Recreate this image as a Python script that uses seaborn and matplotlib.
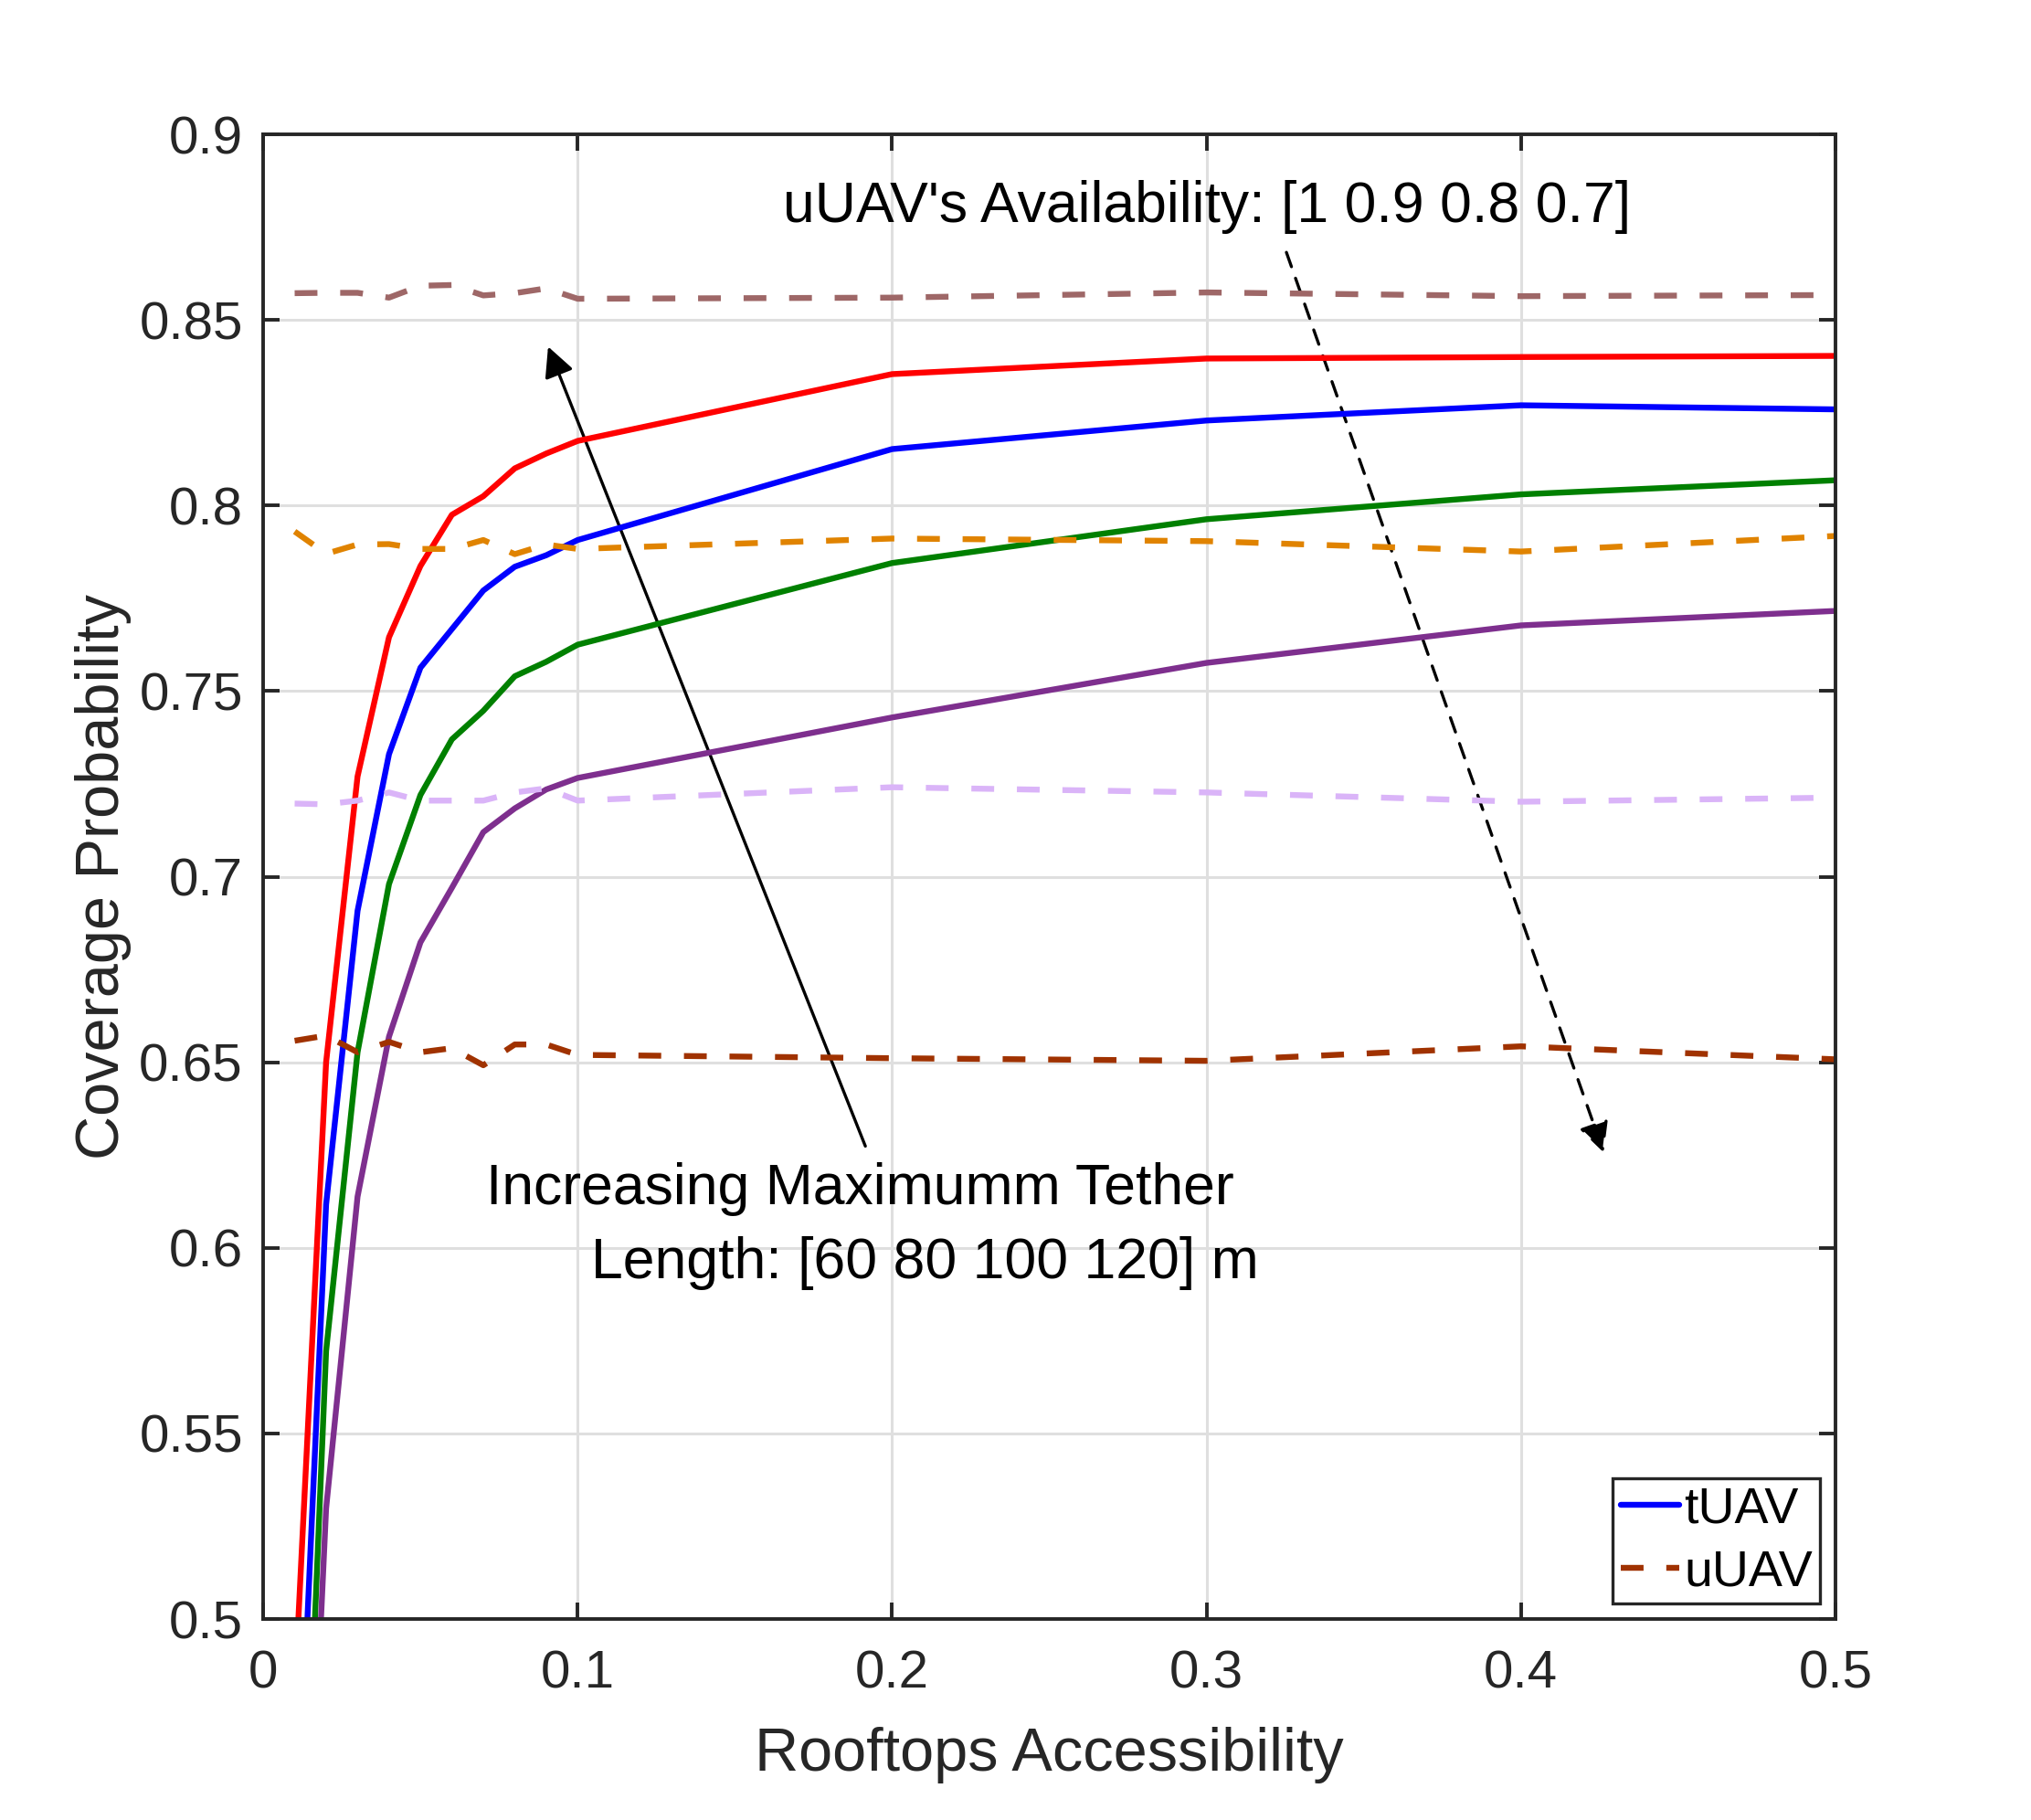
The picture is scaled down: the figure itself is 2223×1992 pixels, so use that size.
import numpy as np
import pandas as pd
import matplotlib
matplotlib.use("Agg")
import matplotlib.pyplot as plt
import seaborn as sns
from matplotlib.patches import FancyArrowPatch

# rooftop accessibility (x) sampled in the simulation
access = [0.01, 0.02, 0.03, 0.04, 0.05, 0.06, 0.07, 0.08, 0.09, 0.10,
          0.20, 0.30, 0.40, 0.50]

# tUAV coverage, tether length 120 / 100 / 80 / 60 m
tuav_120 = [0.480, 0.650, 0.727, 0.7645, 0.7837, 0.7975, 0.8025, 0.810, 0.814, 0.8174,
            0.8354, 0.8396, 0.8400, 0.8403]
tuav_100 = [0.424, 0.6117, 0.6908, 0.733, 0.7563, 0.7667, 0.7771, 0.7835, 0.7866, 0.7907,
            0.8152, 0.8229, 0.8270, 0.8259]
tuav_80 = [0.369, 0.5722, 0.6527, 0.698, 0.722, 0.737, 0.7447, 0.754, 0.7579, 0.7625,
           0.7845, 0.7963, 0.8030, 0.8068]
tuav_60 = [0.347, 0.5298, 0.6138, 0.6569, 0.6823, 0.697, 0.712, 0.7184, 0.7235, 0.7266,
           0.7429, 0.7576, 0.7677, 0.7716]

# uUAV coverage, availability 1 / 0.9 / 0.8 / 0.7
uuav_10 = [0.8572, 0.8573, 0.8573, 0.8560, 0.8592, 0.8594, 0.8566, 0.8572, 0.8585, 0.8557,
           0.8560, 0.8574, 0.8564, 0.8567]
uuav_09 = [0.7930, 0.7870, 0.7895, 0.7896, 0.7883, 0.7883, 0.7907, 0.7869, 0.7895, 0.7883,
           0.7911, 0.7904, 0.7876, 0.7918]
uuav_08 = [0.7197, 0.7195, 0.7205, 0.7227, 0.7205, 0.7205, 0.7205, 0.7227, 0.7238, 0.7205,
           0.7241, 0.7227, 0.7202, 0.7213]
uuav_07 = [0.6558, 0.6572, 0.6527, 0.6555, 0.6527, 0.6538, 0.6492, 0.6548, 0.6548, 0.6520,
           0.6511, 0.6504, 0.6543, 0.6508]

x_ticks = [0, 0.1, 0.2, 0.3, 0.4, 0.5]
x_tick_labels = ["0", "0.1", "0.2", "0.3", "0.4", "0.5"]
y_ticks = [0.5, 0.55, 0.6, 0.65, 0.7, 0.75, 0.8, 0.85, 0.9]
y_tick_labels = ["0.5", "0.55", "0.6", "0.65", "0.7", "0.75", "0.8", "0.85", "0.9"]

sns.set_theme(style="whitegrid")
plt.rcParams['font.family'] = ['Liberation Sans', 'DejaVu Sans']

AX_COL = "#262626"
LW = 2.3
fig = plt.figure(figsize=(11.115, 9.96), dpi=200)
ax = fig.add_axes([0.1296, 0.1104, 0.9037 - 0.1296, 0.9262 - 0.1104])

solid = [(tuav_120, "#FF0000", "_r"), (tuav_100, "#0000FF", "tUAV"),
         (tuav_80, "#008000", "_g"), (tuav_60, "#7E2F8E", "_p")]
dashed = [(uuav_10, "#9E6767", "_a"), (uuav_09, "#E08300", "_b"),
          (uuav_08, "#DAB4F8", "_c"), (uuav_07, "#A03200", "uUAV")]

for vals, col, lab in solid:
    sns.lineplot(x=access, y=vals, color=col, lw=LW, ax=ax, label=lab)
for vals, col, lab in dashed:
    sns.lineplot(x=access, y=vals, color=col, lw=LW, ax=ax, label=lab,
                 dashes=False, linestyle=(0, (3.9, 3.9)))

ax.set_xlim(0, 0.5)
ax.set_ylim(0.5, 0.9)
ax.set_xticks(x_ticks)
ax.set_xticklabels(x_tick_labels)
ax.set_yticks(y_ticks)
ax.set_yticklabels(y_tick_labels)
ax.grid(True, color="#DFDFDF", lw=1.1)
ax.set_facecolor("white")
for s in ax.spines.values():
    s.set_color(AX_COL)
    s.set_linewidth(1.4)
ax.tick_params(direction="in", length=6.5, width=1.4, color=AX_COL, labelcolor=AX_COL,
               labelsize=21, top=True, right=True, left=True, bottom=True, pad=8)
ax.tick_params(axis="x", pad=12)

ax.set_xlabel("Rooftops Accessibility", fontsize=24, color=AX_COL, labelpad=11)
ax.set_ylabel("Coverage Probability", fontsize=24, color=AX_COL, labelpad=3)

# annotations
ax.text(0.30, 0.8805, "uUAV's Availability: [1 0.9 0.8 0.7]", fontsize=22.5,
        ha="center", va="center", color="black")
ax.text(0.0708, 0.6159, "Increasing Maximumm Tether", fontsize=22.5,
        ha="left", va="center", color="black")
ax.text(0.1042, 0.5960, "Length: [60 80 100 120] m", fontsize=22.5,
        ha="left", va="center", color="black")

arr1 = FancyArrowPatch((0.1915, 0.6274), (0.0906, 0.8428), arrowstyle="-|>",
                       mutation_scale=25, lw=1.2, color="black", shrinkA=0, shrinkB=0)
ax.add_patch(arr1)
arr2 = FancyArrowPatch((0.3254, 0.8682), (0.4263, 0.6257), arrowstyle="-|>",
                       mutation_scale=25, lw=1.2, color="black", linestyle=(0, (5, 4)),
                       shrinkA=0, shrinkB=0)
ax.add_patch(arr2)

h, l = ax.get_legend_handles_labels()
leg = ax.legend(h, l, loc="lower right", fontsize=20, handlelength=1.15,
                handletextpad=0.1, borderpad=0.15, labelspacing=0.3,
                borderaxespad=0.3, fancybox=False, framealpha=1, edgecolor=AX_COL)
leg.get_frame().set_linewidth(1.2)
for t in leg.get_texts():
    t.set_color("black")

fig.savefig("out.png", dpi=200, facecolor="white")
